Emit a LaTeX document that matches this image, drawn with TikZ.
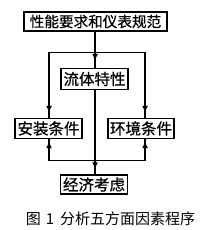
\documentclass[tikz,border=0pt]{standalone}
\usepackage{fontspec}
\setmainfont{Noto Sans CJK SC}
\newfontfamily\boxfont{Noto Sans CJK SC}[FakeBold=0.6]
\usetikzlibrary{arrows.meta,calc}
\begin{document}
\begin{tikzpicture}[x=1pt,y=-1pt,
  box/.style={draw=black,line width=1.4pt,inner sep=0pt,text=black},
  conn/.style={line width=1.2pt,draw=black},
  tipat/.style={line width=1.2pt,draw=black,-{Latex[length=7pt,width=6pt]},shorten >=#1}
]
\useasboundingbox[fill=white] (0,0) rectangle (203,230);
\node[box,minimum width=143pt,minimum height=19pt,font=\boxfont\fontsize{14.6}{15}\selectfont] (top) at (95.5,21.5) {性能要求和仪表规范};
\node[box,minimum width=67pt,minimum height=21pt,font=\boxfont\fontsize{15.5}{16}\selectfont] (flow) at (94.5,79) {流体特性};
\node[box,minimum width=67pt,minimum height=20pt,font=\boxfont\fontsize{15.5}{16}\selectfont] (inst) at (48.5,128.5) {安装条件};
\node[box,minimum width=66pt,minimum height=20pt,font=\boxfont\fontsize{15.5}{16}\selectfont] (env) at (141,128.5) {环境条件};
\node[box,minimum width=67pt,minimum height=19pt,font=\boxfont\fontsize{15.5}{16}\selectfont] (econ) at (94,184.5) {经济考虑};
\node[font=\fontsize{15}{16}\selectfont,inner sep=0pt] (cap) at (110.5,218.5) {图\hspace{5pt}1\hspace{6pt}分析五方面因素程序};
\coordinate (br) at (95,52.5);
\coordinate (lt) at (49,52.5);
\coordinate (rt) at (145,52.5);
\coordinate (lb) at (49,160.5);
\coordinate (rb) at (145,160.5);
\coordinate (cb) at (95,160.5);
\draw[conn] (lt) -- (rt);
\draw[conn] (lb) -- (rb);
\draw[conn] (top.south -| br) -- (flow.north -| br);
\draw[tipat=7pt] (top.south -| br) -- (flow.north -| br);
\draw[conn] (lt) -- (inst.north -| lt);
\draw[tipat=5pt] (lt) -- (inst.north -| lt);
\draw[conn] (rt) -- (env.north -| rt);
\draw[tipat=5pt] (rt) -- (env.north -| rt);
\draw[conn] (lb) -- (inst.south -| lb);
\draw[tipat=2pt] (lb) -- (inst.south -| lb);
\draw[conn] (rb) -- (env.south -| rb);
\draw[tipat=2pt] (rb) -- (env.south -| rb);
\draw[conn] (flow.south -| cb) -- (econ.north -| cb);
\draw[tipat=5pt] (flow.south -| cb) -- (econ.north -| cb);
\end{tikzpicture}
\end{document}
